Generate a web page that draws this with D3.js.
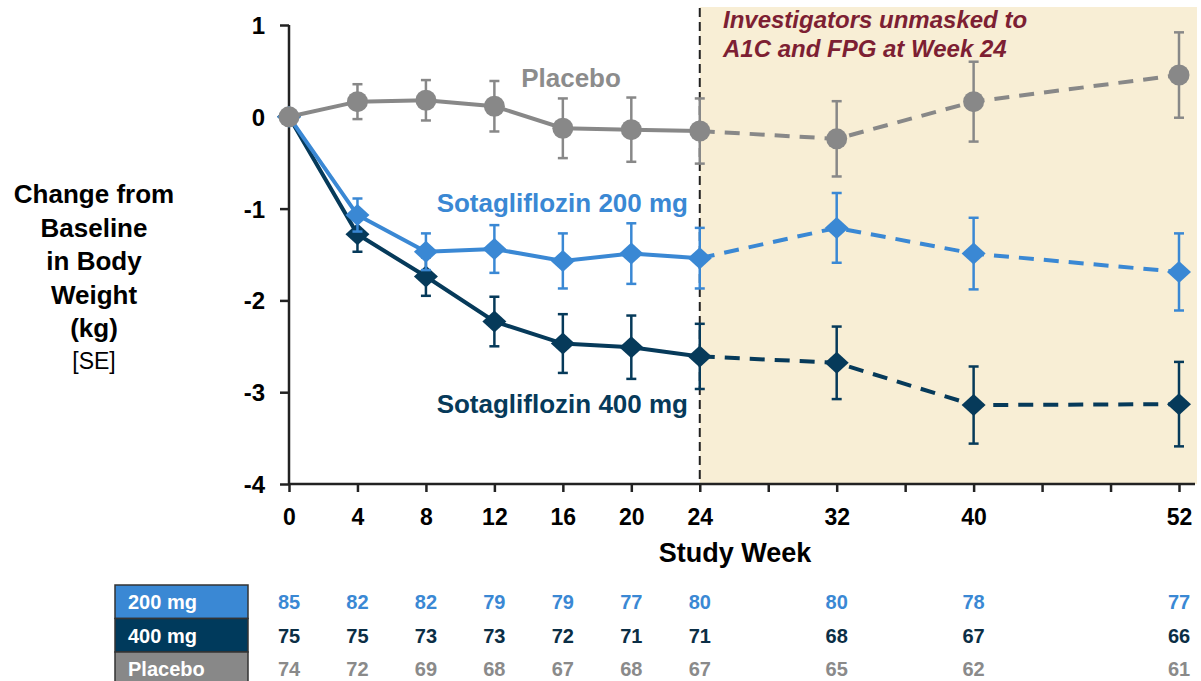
<!DOCTYPE html>
<html><head><meta charset="utf-8">
<script src="https://cdn.jsdelivr.net/npm/d3@7"></script>
<style>
html,body{margin:0;padding:0;background:#fff;}
svg{display:block;font-family:"Liberation Sans",Arial,sans-serif;}
</style></head>
<body><svg id="c" width="1201" height="681"></svg>
<script>
const weeks = [0,4,8,12,16,20,24,32,40,52];
const tickWeeks = [0,4,8,12,16,20,24,28,32,36,40,44,48,52];
const labelWeeks = [0,4,8,12,16,20,24,32,40,52];
const yTicks = [1,0,-1,-2,-3,-4];

const placeboMean = [0,0.165,0.18,0.115,-0.125,-0.14,-0.155,-0.24,0.165,0.455];
const placeboSE   = [0,0.19,0.22,0.275,0.325,0.35,0.355,0.41,0.435,0.465];
const mg200Mean = [0,-1.07,-1.47,-1.44,-1.57,-1.49,-1.54,-1.21,-1.49,-1.69];
const mg200SE   = [0,0.18,0.20,0.26,0.30,0.33,0.33,0.38,0.39,0.42];
const mg400Mean = [0,-1.28,-1.74,-2.23,-2.47,-2.51,-2.61,-2.68,-3.14,-3.13];
const mg400SE   = [0,0.19,0.21,0.27,0.32,0.345,0.355,0.395,0.42,0.46];

const n200 = [85,82,82,79,79,77,80,80,78,77];
const n400 = [75,75,73,73,72,71,71,68,67,66];
const nPlacebo = [74,72,69,68,67,68,67,65,62,61];

const unmaskWeek = 24;
const yTitleLines = ["Change from","Baseline","in Body","Weight","(kg)"];

const C200 = "#3a88d4", C400 = "#063a5a", CPL = "#888888";

const svg = d3.select("#c");
const x = d3.scaleLinear().domain([0,52]).range([289,1179]);
const y = d3.scaleLinear().domain([-4,1]).range([484,25]);

// shaded region
svg.append("rect").attr("x",x(unmaskWeek)).attr("y",7)
  .attr("width",1197-x(unmaskWeek)).attr("height",y(-4)-7).attr("fill","#f8eed5");

// annotation
const ann = svg.append("text").attr("fill","#7d1f33").attr("font-weight","bold")
  .attr("font-style","italic").attr("font-size",24);
ann.append("tspan").attr("x",723).attr("y",28).text("Investigators unmasked to");
ann.append("tspan").attr("x",723).attr("y",57).text("A1C and FPG at Week 24");

// vertical dashed line
svg.append("line").attr("x1",x(unmaskWeek)).attr("x2",x(unmaskWeek))
  .attr("y1",8).attr("y2",y(-4)).attr("stroke","#222").attr("stroke-width",2)
  .attr("stroke-dasharray","9,5");

// axes
const xAxis = d3.axisBottom(x).tickValues(tickWeeks).tickSize(8)
  .tickFormat(d => labelWeeks.includes(d) ? String(d) : "");
const gx = svg.append("g").attr("transform",`translate(0,${y(-4)})`).call(xAxis);
gx.select(".domain").attr("d",`M${x(0)},0H1195`).attr("stroke","#222").attr("stroke-width",2.5);
gx.selectAll(".tick line").attr("stroke","#222").attr("stroke-width",2.5);
gx.selectAll(".tick text").attr("font-size",23).attr("font-weight","bold").attr("fill","#000")
  .attr("font-family","Liberation Sans, Arial, sans-serif").attr("y",null).attr("dy",null)
  .attr("transform","translate(0,41)");

const yAxis = d3.axisLeft(y).tickValues(yTicks).tickSize(9).tickFormat(d => String(d));
const gy = svg.append("g").attr("transform",`translate(${x(0)},0)`).call(yAxis);
gy.select(".domain").attr("d",`M0,${y(1)}V${y(-4)}`).attr("stroke","#222").attr("stroke-width",2.5);
gy.selectAll(".tick line").attr("stroke","#222").attr("stroke-width",2.5);
gy.selectAll(".tick text").attr("font-size",24).attr("font-weight","bold").attr("fill","#000")
  .attr("font-family","Liberation Sans, Arial, sans-serif").attr("x",-24).attr("dy","0.35em");

// axis titles
svg.append("text").attr("x",735).attr("y",562).attr("text-anchor","middle")
  .attr("font-size",27).attr("font-weight","bold").text("Study Week");
const yt = svg.append("text").attr("text-anchor","middle").attr("font-size",26).attr("font-weight","bold");
yTitleLines.forEach((l,i)=> yt.append("tspan").attr("x",94).attr("y",203+i*33.5).text(l));
svg.append("text").attr("x",94).attr("y",369).attr("text-anchor","middle").attr("font-size",23).text("[SE]");

// series
const series = [
  {name:"400", mean:mg400Mean, se:mg400SE, color:C400, shape:"diamond"},
  {name:"200", mean:mg200Mean, se:mg200SE, color:C200, shape:"diamond"},
  {name:"pl", mean:placeboMean, se:placeboSE, color:CPL, shape:"circle"}
];
const line = d3.line().x(d=>x(d.w)).y(d=>y(d.v));
series.forEach(s=>{
  const pts = weeks.map((w,i)=>({w, v:s.mean[i], se:s.se[i]}));
  const g = svg.append("g");
  pts.filter(p=>p.se>0).forEach(p=>{
    const top = y(p.v+p.se), bot = y(p.v-p.se), cx = x(p.w);
    g.append("line").attr("x1",cx).attr("x2",cx).attr("y1",top).attr("y2",bot)
      .attr("stroke",s.color).attr("stroke-width",2.5);
    [top,bot].forEach(yy=> g.append("line").attr("x1",cx-5).attr("x2",cx+5).attr("y1",yy).attr("y2",yy)
      .attr("stroke",s.color).attr("stroke-width",2.5));
  });
  g.append("path").attr("d",line(pts.filter(p=>p.w<=unmaskWeek))).attr("fill","none")
    .attr("stroke",s.color).attr("stroke-width",4);
  g.append("path").attr("d",line(pts.filter(p=>p.w>=unmaskWeek))).attr("fill","none")
    .attr("stroke",s.color).attr("stroke-width",4).attr("stroke-dasharray","15,10");
  pts.forEach(p=>{
    if (s.shape==="circle") {
      g.append("circle").attr("cx",x(p.w)).attr("cy",y(p.v)).attr("r",10.5).attr("fill",s.color);
    } else {
      const cx=x(p.w), cy=y(p.v);
      g.append("path").attr("d",`M${cx-12},${cy}L${cx},${cy-11}L${cx+12},${cy}L${cx},${cy+11}Z`).attr("fill",s.color);
    }
  });
});

// series labels
svg.append("text").attr("x",571).attr("y",87).attr("text-anchor","middle").attr("font-size",26)
  .attr("font-weight","bold").attr("fill","#8c8c8c").text("Placebo");
svg.append("text").attr("x",688).attr("y",212).attr("text-anchor","end").attr("font-size",26)
  .attr("font-weight","bold").attr("fill",C200).text("Sotagliflozin 200 mg");
svg.append("text").attr("x",688).attr("y",413).attr("text-anchor","end").attr("font-size",26)
  .attr("font-weight","bold").attr("fill",C400).text("Sotagliflozin 400 mg");

// table
const rows = [
  {label:"200 mg", vals:n200, box:"#3a88d4", txt:"#3a88d4"},
  {label:"400 mg", vals:n400, box:"#003a5c", txt:"#0b2e45"},
  {label:"Placebo", vals:nPlacebo, box:"#888888", txt:"#8a8a8a"}
];
rows.forEach((r,i)=>{
  const top = 585 + i*33.5;
  svg.append("rect").attr("x",115).attr("y",top).attr("width",133).attr("height",33.5)
    .attr("fill",r.box).attr("stroke","#333").attr("stroke-width",1.5);
  svg.append("text").attr("x",128).attr("y",top+24).attr("font-size",20).attr("font-weight","bold")
    .attr("fill","#fff").text(r.label);
  weeks.forEach((w,j)=>{
    svg.append("text").attr("x",x(w)).attr("y",top+24).attr("text-anchor","middle")
      .attr("font-size",20).attr("font-weight","bold").attr("fill",r.txt).text(r.vals[j]);
  });
});
</script></body></html>
